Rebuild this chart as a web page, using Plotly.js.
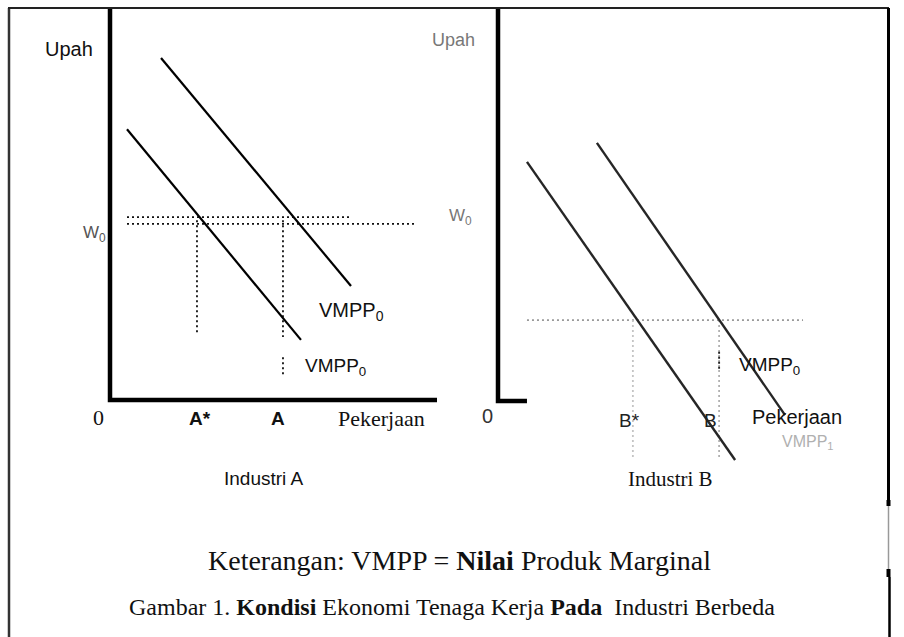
<!DOCTYPE html>
<html>
<head>
<meta charset="utf-8">
<script src="https://cdn.plot.ly/plotly-3.0.1.min.js"></script>
<style>html,body{margin:0;padding:0;background:#fff;}#chart{width:904px;height:637px;}</style>
</head>
<body>
<div id="chart"></div>
<script>
// ---------- DATA (economic units: x = employment, y = wage) ----------
// Industri A
const aAxisX = [0, 0, 10];
const aAxisY = [12, 0, 0];
const aVmppHighX = [1.56, 7.37];
const aVmppHighY = [10.47, 3.49];
const aVmppLowX = [0.52, 5.84];
const aVmppLowY = [8.29, 1.84];
const aWageGuide1X = [0.52, 7.34];
const aWageGuide1Y = [5.60, 5.60];
const aWageGuide2X = [0.52, 9.36];
const aWageGuide2Y = [5.39, 5.39];
const aStarGuideX = [2.66, 2.66];
const aStarGuideY = [5.5, 1.99];
const aGuideX = [5.29, 5.29, null, 5.29, 5.29];
const aGuideY = [5.5, 1.93, null, 1.31, 0.77];

// Industri B
const bAxisX = [0, 0, 0.87];
const bAxisY = [12, 0, 0];
const bVmppLowX = [0.87, 7.12];
const bVmppLowY = [7.30, -1.80];
const bVmppHighX = [2.97, 8.62];
const bVmppHighY = [7.88, -0.43];
const bWageGuideX = [0.87, 9.16];
const bWageGuideY = [2.47, 2.47];
const bStarGuideX = [4.05, 4.05];
const bStarGuideY = [2.47, -1.80];
const bGuideX = [6.64, 6.64];
const bGuideY = [2.47, -1.80];
const bGuideMarkX = [6.64, 6.64];
const bGuideMarkY = [1.50, 0.89];

// Texts
const axisTitleY = "Upah";
const axisTitleX = "Pekerjaan";
const wageLabel = "W<sub>0</sub>";
const vmppLabel = "VMPP<sub>0</sub>";
const ghostLabel = "VMPP<sub>1</sub>";
const tickA = ["0", "A*", "A"];
const tickB = ["0", "B*", "B"];
const panelNames = ["Industri A", "Industri B"];
const noteText = "Keterangan: VMPP = <b>Nilai</b> Produk Marginal";
const captionText = "Gambar 1. <b>Kondisi</b> Ekonomi Tenaga Kerja <b>Pada</b>  Industri Berbeda";

// ---------- TRACES ----------
function seg(x, y, xa, ya, color, width, dash) {
  return {x: x, y: y, xaxis: xa, yaxis: ya, type: 'scatter', mode: 'lines',
          line: {color: color, width: width, dash: dash || 'solid'},
          hoverinfo: 'skip', showlegend: false, connectgaps: false};
}
const dotted = '2px,3px';
const traces = [
  seg(aWageGuide1X, aWageGuide1Y, 'x', 'y', '#111', 1.8, dotted),
  seg(aWageGuide2X, aWageGuide2Y, 'x', 'y', '#111', 1.8, dotted),
  seg(aStarGuideX, aStarGuideY, 'x', 'y', '#111', 1.8, dotted),
  seg(aGuideX, aGuideY, 'x', 'y', '#111', 1.8, dotted),
  seg(aVmppHighX, aVmppHighY, 'x', 'y', '#000', 2.2),
  seg(aVmppLowX, aVmppLowY, 'x', 'y', '#000', 2.2),
  seg(aAxisX, aAxisY, 'x', 'y', '#000', 4.5),

  seg(bWageGuideX, bWageGuideY, 'x2', 'y2', '#999', 1.8, dotted),
  seg(bStarGuideX, bStarGuideY, 'x2', 'y2', '#c4c4c4', 1.8, dotted),
  seg(bGuideX, bGuideY, 'x2', 'y2', '#b0b0b0', 1.8, dotted),
  seg(bGuideMarkX, bGuideMarkY, 'x2', 'y2', '#222', 1.9, dotted),
  seg(bVmppLowX, bVmppLowY, 'x2', 'y2', '#262626', 2.4),
  seg(bVmppHighX, bVmppHighY, 'x2', 'y2', '#262626', 2.4),
  seg(bAxisX, bAxisY, 'x2', 'y2', '#000', 4.5)
];

// ---------- LAYOUT ----------
const W = 904, H = 637;
function at(px, py, text, font, extra) {
  return Object.assign({x: px / W, y: 1 - py / H, xref: 'paper', yref: 'paper',
    text: text, showarrow: false, xanchor: 'center', yanchor: 'middle', font: font}, extra || {});
}
const SERIF = 'Liberation Serif, Times New Roman, serif';
const SANS = 'Liberation Sans, Arial, sans-serif';

const annotations = [
  at(69, 49, axisTitleY, {family: SANS, size: 20, color: '#111'}),
  at(94, 234, wageLabel, {family: SANS, size: 17, color: '#555'}),
  at(98, 417, tickA[0], {family: SERIF, size: 22, color: '#111'}),
  at(200, 418, tickA[1], {family: SANS, size: 19, color: '#111', weight: 'bold'}),
  at(278, 418, tickA[2], {family: SANS, size: 19, color: '#111', weight: 'bold'}),
  at(381, 418, axisTitleX, {family: SERIF, size: 22, color: '#111'}),
  at(351, 311, vmppLabel, {family: SANS, size: 20, color: '#111'}),
  at(335, 367, vmppLabel, {family: SANS, size: 19, color: '#111'}),
  at(264, 478, panelNames[0], {family: SANS, size: 19, color: '#111'}),

  at(454, 40, axisTitleY, {family: SANS, size: 18, color: '#777'}),
  at(460, 217, wageLabel, {family: SANS, size: 17, color: '#777'}),
  at(488, 416, tickB[0], {family: SANS, size: 20, color: '#333'}),
  at(808, 442, ghostLabel, {family: SANS, size: 16, color: '#b0b0b0'}),
  at(629, 420, tickB[1], {family: SANS, size: 19, color: '#222'}),
  at(710, 420, tickB[2], {family: SANS, size: 19, color: '#222'}),
  at(797, 417, axisTitleX, {family: SANS, size: 20, color: '#111'}),
  at(769, 366, vmppLabel, {family: SANS, size: 19, color: '#111'}),
  at(670, 479, panelNames[1], {family: SERIF, size: 21, color: '#111'}),

  at(459, 560, noteText, {family: SERIF, size: 28, color: '#111'}),
  at(452, 607, captionText, {family: SERIF, size: 24, color: '#111'})
];

function line(x0, y0, x1, y1, color, width) {
  return {type: 'line', xref: 'paper', yref: 'paper', x0: x0 / W, y0: 1 - y0 / H, x1: x1 / W, y1: 1 - y1 / H,
          line: {color: color, width: width}, layer: 'above'};
}
const shapes = [
  line(9, 8, 9, 637, '#333', 2.5),
  line(8, 8, 889, 8, '#222', 2),
  line(888.5, 8, 888.5, 500, '#000', 3),
  line(888.5, 500, 888.5, 506, '#000', 4),
  line(888.5, 506, 888.5, 569, '#999', 1.5),
  line(888.5, 569, 888.5, 577, '#000', 4),
  line(889.5, 577, 889.5, 637, '#000', 2.5)
];

const hidden = {showgrid: false, zeroline: false, showline: false, showticklabels: false, ticks: '', fixedrange: true};
const layout = {
  width: W, height: H,
  margin: {l: 0, r: 0, t: 0, b: 0, pad: 0},
  paper_bgcolor: '#fff', plot_bgcolor: 'rgba(0,0,0,0)',
  showlegend: false,
  xaxis: Object.assign({domain: [100 / W, 445 / W], range: [-0.3058, 10.2446]}, hidden),
  yaxis: Object.assign({domain: [1 - 410 / H, 1 - 4 / H], range: [-0.3061, 12.122]}, hidden),
  xaxis2: Object.assign({domain: [488 / W, 845 / W], range: [-0.3003, 10.4204], anchor: 'y2'}, hidden),
  yaxis2: Object.assign({domain: [1 - 470 / H, 1 - 4 / H], range: [-2.1069, 12.1221], anchor: 'x2'}, hidden),
  annotations: annotations,
  shapes: shapes
};

Plotly.newPlot('chart', traces, layout, {staticPlot: true, displayModeBar: false});
</script>
</body>
</html>
